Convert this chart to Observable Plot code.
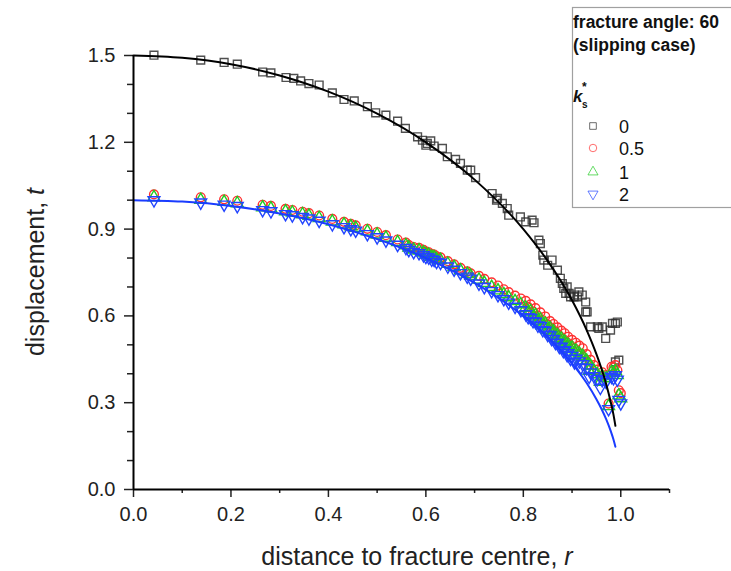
<!DOCTYPE html>
<html><head><meta charset="utf-8">
<script src="https://cdn.jsdelivr.net/npm/d3@7"></script>
<script src="https://cdn.jsdelivr.net/npm/@observablehq/plot@0.6"></script>
<style>
body{margin:0;background:#fff;overflow:hidden;font-family:"Liberation Sans",Arial,sans-serif;}
#wrap{position:relative;width:731px;height:571px;overflow:hidden;}
.lab{position:absolute;font-size:25px;color:#222;white-space:nowrap;}
#ylab{left:35px;top:272px;transform:translate(-50%,-50%) rotate(-90deg);}
#xlab{left:417px;top:556px;transform:translate(-50%,-50%);}
#legend{position:absolute;left:0;top:0;}
</style></head><body><div id="wrap"></div>
<script>
// ---- data ----
const xMajor = [0, 0.2, 0.4, 0.6, 0.8, 1.0];
const xMinor = [0.1, 0.3, 0.5, 0.7, 0.9, 1.1];
const yMajor = [0, 0.3, 0.6, 0.9, 1.2, 1.5];
const yMinor = [0.1, 0.2, 0.4, 0.5, 0.7, 0.8, 1.0, 1.1, 1.3, 1.4];

const seriesNames = ["0", "0.5", "1", "2"];
const seriesColors = ["#303030", "#ff3030", "#22cc22", "#2244ff"];
const legendTitle = ["fracture angle: 60", "(slipping case)"];

// k_s* = 0 (squares)
const rSq = [0.042,0.138,0.186,0.213,0.265,0.282,0.313,0.329,0.343,0.360,0.381,0.408,0.432,0.453,0.480,0.497,0.518,0.542,0.558,0.583,0.593,0.600,0.603,0.610,0.617,0.634,0.644,0.661,0.671,0.685,0.692,0.702,0.736,0.745,0.747,0.757,0.767,0.770,0.794,0.805,0.818,0.822,0.832,0.835,0.840,0.842,0.850,0.859,0.870,0.876,0.880,0.883,0.887,0.890,0.894,0.897,0.904,0.905,0.911,0.914,0.921,0.928,0.928,0.931,0.938,0.952,0.955,0.962,0.969,0.979,0.983,0.989,0.993,0.989,0.996];
const tSq = [1.501,1.484,1.476,1.470,1.443,1.440,1.424,1.421,1.412,1.403,1.398,1.371,1.348,1.343,1.323,1.302,1.294,1.273,1.248,1.219,1.207,1.190,1.196,1.205,1.187,1.179,1.150,1.141,1.127,1.104,1.104,1.078,1.023,1.000,1.006,0.989,0.971,0.948,0.942,0.925,0.931,0.922,0.862,0.850,0.810,0.793,0.775,0.793,0.758,0.730,0.712,0.695,0.678,0.700,0.678,0.666,0.666,0.672,0.666,0.683,0.672,0.648,0.614,0.614,0.562,0.562,0.557,0.562,0.522,0.551,0.574,0.574,0.579,0.441,0.447];

// k_s* = 0.5, 1, 2
const rC = [0.042,0.138,0.186,0.213,0.265,0.282,0.312,0.326,0.347,0.360,0.381,0.408,0.432,0.446,0.456,0.480,0.500,0.518,0.542,0.559,0.586,0.595,0.606,0.617,0.630,0.645,0.658,0.671,0.685,0.692,
 0.709,0.720,0.735,0.748,0.760,0.770,0.783,0.795,0.805,0.815,0.825,0.835,0.845,0.855,0.862,0.870,0.878,0.885,0.892,0.900,0.908,0.915,0.922,0.930,0.938,0.945,0.952,0.962,0.970,0.975,0.981,0.985,0.989,0.993,0.996,1.000,
 0.565,0.575,0.600,0.612,0.622,0.810,0.820,0.830,0.840,0.850,0.858,0.866,0.874,0.882,0.890,0.897,0.905,0.918,0.935,0.958];
const tRed = [1.020,1.010,1.003,0.998,0.984,0.980,0.970,0.966,0.960,0.955,0.947,0.935,0.925,0.918,0.913,0.901,0.890,0.879,0.864,0.853,0.835,0.828,0.820,0.812,0.802,0.789,0.778,0.766,0.754,0.747,
 0.738,0.728,0.716,0.705,0.692,0.682,0.670,0.660,0.652,0.640,0.627,0.612,0.598,0.582,0.572,0.560,0.549,0.540,0.528,0.517,0.507,0.497,0.488,0.468,0.448,0.430,0.414,0.405,0.395,0.297,0.424,0.422,0.430,0.412,0.343,0.333,
 0.845,0.838,0.822,0.814,0.806,0.630,0.615,0.600,0.585,0.570,0.558,0.545,0.532,0.520,0.508,0.498,0.488,0.470,0.432,0.392];
const tGreen = [1.010,1.001,0.994,0.989,0.975,0.971,0.961,0.957,0.951,0.946,0.938,0.926,0.916,0.909,0.904,0.892,0.881,0.870,0.855,0.844,0.826,0.819,0.811,0.803,0.793,0.780,0.769,0.757,0.745,0.738,
 0.725,0.714,0.700,0.688,0.675,0.664,0.651,0.640,0.628,0.616,0.603,0.588,0.573,0.557,0.546,0.533,0.521,0.511,0.500,0.490,0.480,0.470,0.461,0.445,0.427,0.410,0.398,0.392,0.384,0.288,0.405,0.402,0.410,0.395,0.325,0.315,
 0.836,0.829,0.812,0.804,0.796,0.612,0.598,0.583,0.567,0.551,0.538,0.524,0.511,0.498,0.485,0.474,0.463,0.445,0.410,0.372];
const tBlue = [1.000,0.992,0.985,0.980,0.966,0.962,0.952,0.948,0.942,0.937,0.929,0.917,0.907,0.900,0.895,0.883,0.872,0.861,0.846,0.835,0.817,0.810,0.802,0.794,0.784,0.771,0.760,0.748,0.736,0.729,
 0.712,0.700,0.686,0.672,0.658,0.646,0.632,0.620,0.606,0.593,0.580,0.565,0.549,0.533,0.520,0.507,0.494,0.482,0.471,0.462,0.452,0.443,0.433,0.420,0.405,0.392,0.382,0.378,0.372,0.278,0.390,0.385,0.395,0.380,0.310,0.298,
 0.828,0.821,0.804,0.795,0.787,0.596,0.582,0.567,0.551,0.535,0.521,0.507,0.493,0.479,0.465,0.452,0.440,0.422,0.390,0.352];

// fitted curves
const rCurve = [0, 0.1, 0.2, 0.3, 0.4, 0.5, 0.6, 0.7, 0.8, 0.85, 0.9, 0.93, 0.95, 0.96, 0.97, 0.98, 0.985, 0.989];
const tCurveBlack = [1.500,1.492,1.470,1.431,1.375,1.299,1.200,1.071,0.900,0.790,0.654,0.551,0.468,0.420,0.365,0.298,0.259,0.220];
const tCurveBlue  = [1.000,0.995,0.980,0.954,0.917,0.866,0.800,0.714,0.600,0.527,0.436,0.368,0.312,0.280,0.243,0.199,0.173,0.148];

// ---- build tables ----
const sq = rSq.map((r, i) => ({r, t: tSq[i]}));
const red = rC.map((r, i) => ({r, t: tRed[i]}));
const green = rC.map((r, i) => ({r, t: tGreen[i]}));
const blue = rC.map((r, i) => ({r, t: tBlue[i]}));
const lineBlack = rCurve.map((r, i) => ({r, t: tCurveBlack[i]}));
const lineBlue = rCurve.map((r, i) => ({r, t: tCurveBlue[i]}));

const font = '"Liberation Sans", Arial, sans-serif';
const fmt = d3.format(".1f");

const plot = Plot.plot({
  width: 731, height: 571,
  marginLeft: 133, marginRight: 62, marginTop: 55, marginBottom: 82,
  x: {domain: [0, 1.1]},
  y: {domain: [0, 1.5]},
  style: {fontFamily: font, fontSize: "20px", color: "#222", background: "transparent", overflow: "visible"},
  marks: [
    Plot.axisX({ticks: xMajor, tickSize: 8, tickPadding: 9, tickFormat: fmt, label: null, strokeWidth: 1.5, fontSize: 20}),
    Plot.axisX({ticks: xMinor, tickSize: 4, tickFormat: () => "", label: null, strokeWidth: 1.5}),
    Plot.axisY({ticks: yMajor, tickSize: 9, tickPadding: 9, tickFormat: fmt, label: null, strokeWidth: 1.5, fontSize: 20}),
    Plot.axisY({ticks: yMinor, tickSize: 6, tickFormat: () => "", label: null, strokeWidth: 1.5}),
    Plot.dot(sq, {x: "r", y: "t", symbol: "square", r: 4.4, stroke: seriesColors[0], strokeWidth: 1.4, strokeOpacity: 0.85, fill: "none"}),
    Plot.dot(red, {x: "r", y: "t", symbol: "circle", r: 4.4, stroke: seriesColors[1], strokeWidth: 1.4, fill: "none"}),
    Plot.dot(green, {x: "r", y: "t", symbol: "triangle", r: 4.4, stroke: seriesColors[2], strokeWidth: 1.4, fill: "none"}),
    Plot.dot(blue, {x: "r", y: "t", symbol: "triangle", rotate: 180, r: 4.4, stroke: seriesColors[3], strokeWidth: 1.4, fill: "none"}),
    Plot.line(lineBlack, {x: "r", y: "t", stroke: "#000", strokeWidth: 2, curve: "monotone-x"}),
    Plot.line(lineBlue, {x: "r", y: "t", stroke: "#1a3cff", strokeWidth: 2, curve: "monotone-x"}),
    Plot.ruleX([0], {stroke: "#000", strokeWidth: 2}),
    Plot.ruleY([0], {stroke: "#000", strokeWidth: 2})
  ]
});

const wrap = document.getElementById("wrap");
wrap.appendChild(plot);

const ylab = document.createElement("div");
ylab.className = "lab"; ylab.id = "ylab";
ylab.innerHTML = "displacement, <i>t</i>";
wrap.appendChild(ylab);
const xlab = document.createElement("div");
xlab.className = "lab"; xlab.id = "xlab";
xlab.innerHTML = "distance to fracture centre, <i>r</i>";
wrap.appendChild(xlab);

// legend (inline SVG)
const lg = d3.select(wrap).append("svg").attr("id", "legend").attr("width", 731).attr("height", 220)
  .style("font-family", font);
lg.append("rect").attr("x", 572.5).attr("y", 7.5).attr("width", 200).attr("height", 200)
  .attr("fill", "#fff").attr("stroke", "#a0a0a0").attr("stroke-width", 1.2);
lg.append("text").attr("x", 573).attr("y", 27.5).attr("font-size", 17.5).attr("font-weight", "bold").attr("fill", "#111").text(legendTitle[0]);
lg.append("text").attr("x", 573).attr("y", 51).attr("font-size", 17.5).attr("font-weight", "bold").attr("fill", "#111").text(legendTitle[1]);
lg.append("text").attr("x", 573).attr("y", 101.5).attr("font-size", 17).attr("font-weight", "bold").attr("font-style", "italic").attr("fill", "#111").text("k");
lg.append("text").attr("x", 582).attr("y", 108).attr("font-size", 10).attr("font-weight", "bold").attr("fill", "#111").text("s");
lg.append("text").attr("x", 582).attr("y", 91).attr("font-size", 12).attr("font-weight", "bold").attr("fill", "#111").text("*");
const syms = [d3.symbolSquare, d3.symbolCircle, d3.symbolTriangle, d3.symbolTriangle];
const ys = [126, 148, 172, 194];
seriesNames.forEach((name, i) => {
  const g = lg.append("g").attr("transform", `translate(593,${ys[i]})${i === 3 ? " rotate(180)" : ""}`);
  g.append("path").attr("d", d3.symbol(syms[i], Math.PI * 14)()).attr("fill", "none")
    .attr("stroke", seriesColors[i]).attr("stroke-width", 1).attr("opacity", 0.7);
  lg.append("text").attr("x", 619).attr("y", ys[i] + 6.5).attr("font-size", 18).attr("fill", "#111").text(name);
});
</script>
</body></html>
